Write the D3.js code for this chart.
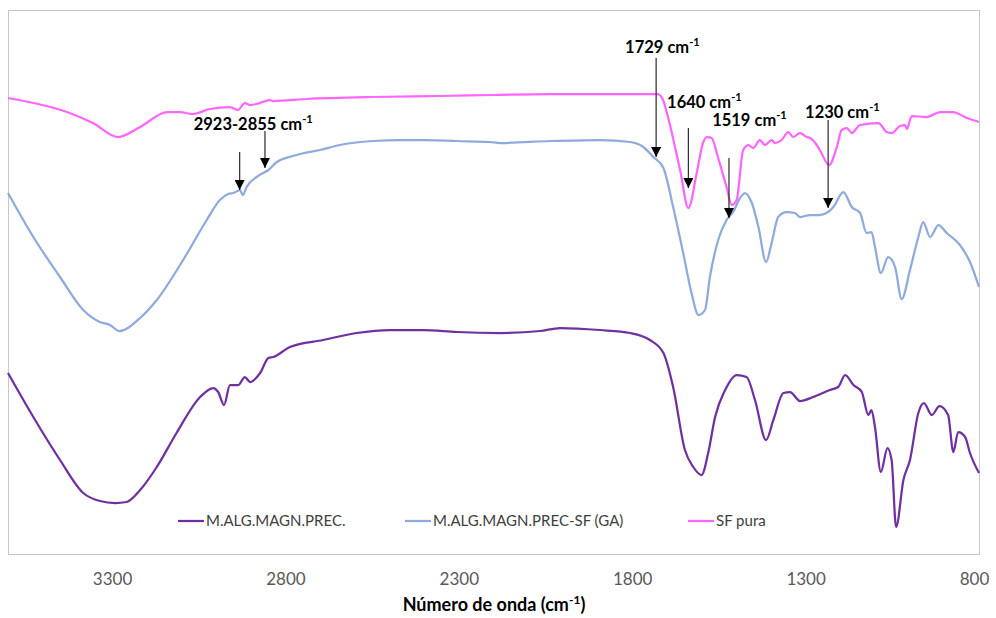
<!DOCTYPE html>
<meta charset='utf-8'>
<style>
	body { margin: 0; background: #fff; }
	#container { width: 996px; height: 618px; }
	text { font-family: Lato, 'Open Sans', sans-serif; }
</style>
<body>
	<div id='container'></div>
<script src='https://cdn.jsdelivr.net/npm/d3@7/dist/d3.min.js'></script>
<script>
	// FTIR spectra, transmittance in arbitrary units (curves are offset)
	const seriesNames = [ 'M.ALG.MAGN.PREC.', 'M.ALG.MAGN.PREC-SF (GA)', 'SF pura' ];

	const precWn = [ 3600, 3527, 3450, 3383, 3335, 3291, 3258, 3219, 3171, 3114, 3046, 3008, 2994, 2977, 2960, 2936, 2917, 2902, 2873, 2849, 2835, 2787, 2691, 2595, 2498, 2402, 2306, 2181, 2066, 2008, 1893, 1806, 1749, 1710, 1682, 1648, 1624, 1600, 1581, 1561, 1532, 1499, 1470, 1446, 1414, 1393, 1364, 1345, 1316, 1278, 1230, 1206, 1186, 1162, 1138, 1119, 1110, 1100, 1083, 1064, 1052, 1039, 1018, 999, 975, 959, 936, 914, 889, 874, 860, 840, 826, 800 ];
	const precT = [ 181, 137, 94, 61, 53, 51, 52, 64, 87, 121, 157, 166, 162, 149, 169, 169, 177, 172, 181, 196, 197, 207, 214, 221, 224, 224, 222, 221, 223, 226, 224, 221, 214, 201, 167, 104, 87, 79, 101, 137, 164, 179, 177, 154, 114, 134, 161, 162, 153, 157, 164, 167, 179, 169, 162, 139, 144, 127, 82, 106, 94, 27, 74, 94, 141, 151, 139, 148, 139, 102, 122, 117, 101, 81 ];

	const gaWn = [ 3600, 3527, 3450, 3383, 3335, 3306, 3279, 3219, 3171, 3095, 3027, 2989, 2965, 2950, 2931, 2923, 2912, 2883, 2864, 2849, 2825, 2768, 2700, 2643, 2547, 2470, 2393, 2306, 2211, 2181, 2037, 1893, 1806, 1768, 1739, 1710, 1682, 1653, 1629, 1609, 1590, 1576, 1552, 1528, 1509, 1489, 1475, 1455, 1436, 1414, 1398, 1379, 1355, 1331, 1316, 1287, 1259, 1235, 1220, 1191, 1167, 1143, 1124, 1110, 1100, 1083, 1062, 1042, 1023, 999, 975, 961, 941, 917, 893, 855, 826, 800 ];
	const gaT = [ 361, 317, 277, 244, 232, 229, 223, 236, 254, 294, 334, 354, 360, 361, 364, 359, 367, 377, 381, 384, 392, 399, 404, 409, 413, 414, 414, 413, 412, 411, 413, 414, 412, 407, 397, 386, 347, 301, 261, 239, 244, 277, 314, 334, 342, 356, 361, 351, 327, 292, 311, 337, 342, 341, 337, 339, 339, 342, 347, 362, 347, 341, 321, 322, 307, 281, 297, 287, 255, 284, 317, 332, 317, 329, 321, 309, 292, 267 ];

	const sfWn = [ 3600, 3430, 3355, 3283, 3219, 3141, 3104, 3069, 3018, 2960, 2937, 2917, 2902, 2883, 2845, 2836, 2739, 2548, 2354, 2202, 2037, 1893, 1726, 1711, 1697, 1662, 1638, 1614, 1596, 1585, 1571, 1553, 1528, 1513, 1499, 1480, 1465, 1451, 1432, 1417, 1398, 1388, 1369, 1350, 1336, 1316, 1297, 1287, 1268, 1259, 1232, 1210, 1196, 1181, 1167, 1143, 1090, 1066, 1052, 1028, 1013, 1008, 994, 951, 912, 875, 835, 800 ];
	const sfT = [ 456, 442, 431, 417, 427, 442, 442, 440, 445, 447, 444, 451, 449, 450, 454, 453, 455, 457, 458, 459, 460, 460, 460, 454, 437, 384, 346, 381, 411, 417, 416, 397, 367, 349, 354, 404, 409, 406, 414, 409, 414, 411, 414, 422, 417, 421, 417, 416, 409, 404, 389, 407, 424, 426, 421, 429, 431, 422, 421, 428, 429, 425, 438, 437, 442, 442, 436, 432 ];

	const xTicks = [ 3300, 2800, 2300, 1800, 1300, 800 ];

	// annotations: label, arrow wavenumber, arrow start / tip, label anchor
	const annLabels = [ '2923-2855 cm', '1729 cm', '1640 cm', '1519 cm', '1230 cm' ];
	const annLabelWn = [ 2893, 1713, 1592, 1462, 1194 ];
	const annLabelT = [ 424, 501, 446, 428, 436 ];
	const arrowWn = [ 2932, 2859, 1731, 1638, 1521, 1235 ];
	const arrowFrom = [ 402, 423, 496, 426, 396, 434 ];
	const arrowTo = [ 364, 386, 397, 366, 336, 346 ];

	const colors = [ '#7030A0', '#8FAADC', '#FF66FF' ];

	const plot = { left: 8, top: 10, right: 979, bottom: 554 };

	let xScale = d3.scaleLinear()
		.domain( [3600, 800] )
		.range( [plot.left, plot.right] );
	let yScale = d3.scaleLinear()
		.domain( [0, 544] )
		.range( [plot.bottom, plot.top] );

	let svg = d3.select( '#container' )
		.append( 'svg' )
		.attr( 'width', 996 )
		.attr( 'height', 618 );

	svg.append( 'rect' )
		.attr( 'x', plot.left + 0.5 )
		.attr( 'y', plot.top + 0.5 )
		.attr( 'width', plot.right - plot.left )
		.attr( 'height', plot.bottom - plot.top )
		.style( 'fill', 'none' )
		.style( 'stroke', '#c8c8c8' )
		.style( 'stroke-width', 1 );

	// x axis, labels only
	let xAxis = d3.axisBottom( xScale )
		.tickValues( xTicks )
		.tickFormat( d3.format( 'd' ) )
		.tickSize( 0 )
		.tickPadding( 0 );

	let xAxisEl = svg.append( 'g' )
		.attr( 'transform', `translate( 0, ${plot.bottom} )` )
		.call( xAxis );
	xAxisEl.select( '.domain' ).remove();
	xAxisEl.selectAll( 'text' )
		.attr( 'y', 31 )
		.attr( 'dy', 0 )
		.style( 'font-size', '17px' )
		.style( 'fill', '#595959' );
	xAxisEl.selectAll( '.tick' ).filter( d => d === 800 ).select( 'text' )
		.attr( 'x', -5 );

	let title = svg.append( 'text' )
		.attr( 'x', 494 )
		.attr( 'y', 611 )
		.attr( 'text-anchor', 'middle' )
		.style( 'font-size', '18px' )
		.style( 'font-weight', 'bold' )
		.style( 'fill', '#000' );
	title.append( 'tspan' ).text( 'Número de onda (cm' );
	title.append( 'tspan' ).attr( 'dy', -7 ).style( 'font-size', '12px' ).text( '-1' );
	title.append( 'tspan' ).attr( 'dy', 7 ).text( ')' );

	// spectra
	let lineData = [
		{ name: seriesNames[0], wn: precWn, t: precT },
		{ name: seriesNames[1], wn: gaWn, t: gaT },
		{ name: seriesNames[2], wn: sfWn, t: sfT },
	].map( s => ( { name: s.name, data: s.wn.map( ( w, i ) => ( { wn: w, t: s.t[i] } ) ) } ) );

	let spectrumLine = d3.line()
		.curve( d3.curveMonotoneX )
		.x( d => xScale( d.wn ) )
		.y( d => yScale( d.t ) );

	svg.append( 'g' )
		.selectAll( 'path' )
		.data( lineData )
		.enter().append( 'path' )
			.attr( 'd', d => spectrumLine( d.data ) )
			.style( 'fill', 'none' )
			.style( 'stroke', ( d, i ) => colors[i] )
			.style( 'stroke-width', 2.25 )
			.style( 'stroke-linejoin', 'round' );

	// arrows
	svg.append( 'defs' ).append( 'marker' )
		.attr( 'id', 'arrow' )
		.attr( 'viewBox', '0 0 10 10' )
		.attr( 'refX', 10 )
		.attr( 'refY', 5 )
		.attr( 'markerWidth', 10 )
		.attr( 'markerHeight', 10 )
		.attr( 'markerUnits', 'userSpaceOnUse' )
		.attr( 'orient', 'auto' )
		.append( 'path' )
			.attr( 'd', 'M0,0 L10,5 L0,10 z' )
			.style( 'fill', '#000' );

	svg.append( 'g' )
		.selectAll( 'line' )
		.data( arrowWn )
		.enter().append( 'line' )
			.attr( 'x1', d => xScale( d ) )
			.attr( 'x2', d => xScale( d ) )
			.attr( 'y1', ( d, i ) => yScale( arrowFrom[i] ) )
			.attr( 'y2', ( d, i ) => yScale( arrowTo[i] ) )
			.style( 'stroke', '#333' )
			.style( 'stroke-width', 1.25 )
			.attr( 'marker-end', 'url(#arrow)' );

	let ann = svg.append( 'g' )
		.selectAll( 'text' )
		.data( annLabels )
		.enter().append( 'text' )
			.attr( 'x', ( d, i ) => xScale( annLabelWn[i] ) )
			.attr( 'y', ( d, i ) => yScale( annLabelT[i] ) )
			.attr( 'text-anchor', 'middle' )
			.style( 'font-size', '16.5px' )
			.style( 'font-weight', 'bold' )
			.style( 'fill', '#000' );
	ann.append( 'tspan' ).text( d => d );
	ann.append( 'tspan' ).attr( 'dy', -7 ).style( 'font-size', '11px' ).text( '-1' );

	// legend
	let legendX = [ 178, 405, 688 ];
	let legend = svg.append( 'g' )
		.selectAll( 'g' )
		.data( seriesNames )
		.enter().append( 'g' )
			.attr( 'transform', ( d, i ) => `translate( ${legendX[i]}, 521 )` );
	legend.append( 'line' )
		.attr( 'x1', 0 )
		.attr( 'x2', 26 )
		.style( 'stroke', ( d, i ) => colors[i] )
		.style( 'stroke-width', 2.25 );
	legend.append( 'text' )
		.attr( 'x', 28 )
		.attr( 'dy', '.35em' )
		.style( 'font-size', '15px' )
		.style( 'fill', '#404040' )
		.text( d => d );
</script>
</body>
